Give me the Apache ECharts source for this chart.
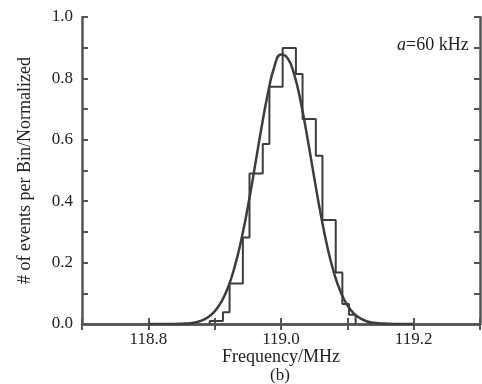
<!DOCTYPE html>
<html>
<head>
<meta charset="utf-8">
<script src="https://cdn.jsdelivr.net/npm/echarts@6/dist/echarts.min.js"></script>
<style>
html,body{margin:0;padding:0;background:#fff;}
#c{width:482px;height:384px;}
</style>
</head>
<body>
<div id="c"></div>
<script>
// Histogram bin edges (MHz) and normalized counts per bin
var histEdges = [118.8925, 118.9125, 118.9225, 118.9425, 118.9525, 118.9725, 118.9825, 119.0025, 119.0225, 119.0325, 119.0525, 119.0625, 119.0825, 119.0925, 119.1025, 119.1125];
var histValues = [0.01, 0.038, 0.132, 0.282, 0.49, 0.586, 0.773, 0.899, 0.814, 0.668, 0.548, 0.339, 0.168, 0.065, 0.03];

// Fitted curve
var curveX = [118.80, 118.84, 118.85, 118.86, 118.87, 118.88, 118.89, 118.90, 118.91, 118.92, 118.93, 118.94, 118.95, 118.96, 118.97, 118.98, 118.99, 119.00, 119.01, 119.02, 119.03, 119.04, 119.05, 119.06, 119.07, 119.08, 119.09, 119.10, 119.11, 119.12, 119.13, 119.14, 119.15, 119.16, 119.17, 119.20];
var curveY = [0.000, 0.000, 0.001, 0.002, 0.005, 0.011, 0.022, 0.041, 0.072, 0.118, 0.185, 0.273, 0.381, 0.505, 0.632, 0.748, 0.838, 0.878, 0.866, 0.812, 0.721, 0.604, 0.478, 0.356, 0.250, 0.166, 0.104, 0.061, 0.034, 0.018, 0.008, 0.004, 0.002, 0.001, 0.000, 0.000];

// Axis ticks and labels
var xTickValues = [118.7, 118.8, 118.9, 119.0, 119.1, 119.2, 119.3];
var xTickLabels = ['118.8', '119.0', '119.2'];
var yTickLabels = ['0.0', '0.2', '0.4', '0.6', '0.8', '1.0'];
var xTitle = 'Frequency/MHz';
var yTitle = '# of events per Bin/Normalized';
var panelLabel = '(b)';
var annotation = '=60 kHz';

var histData = [[histEdges[0], 0]];
for (var i = 0; i < histValues.length; i++) histData.push([histEdges[i], histValues[i]]);
histData.push([histEdges[histEdges.length - 1], 0]);

var curveData = curveX.map(function (x, i) { return [x, curveY[i]]; });
var xLabelValues = xTickLabels.map(Number);

var font = 'Liberation Serif, Times New Roman, serif';
var axisCol = '#555555';
var lineCol = '#3d3d3d';
function tick() { return {show: true, inside: true, length: 6, lineStyle: {color: axisCol, width: 2}}; }
function minor() { return {show: true, splitNumber: 2, length: 6, lineStyle: {color: axisCol, width: 2}}; }
function xTick() { var t = tick(); t.customValues = xTickValues.slice(); return t; }

var chart = echarts.init(document.getElementById('c'), null, {renderer: 'canvas'});
chart.setOption({
  backgroundColor: '#ffffff',
  animation: false,
  grid: {left: 82, right: 2, top: 17, bottom: 60},
  xAxis: [{
    type: 'value', min: 118.7, max: 119.3, position: 'bottom',
    name: xTitle, nameLocation: 'middle', nameGap: 24, nameMoveOverlap: false,
    nameTextStyle: {fontFamily: font, fontSize: 18, color: '#222'},
    axisLine: {lineStyle: {color: axisCol, width: 2.5}},
    axisTick: xTick(),
    axisLabel: {customValues: xLabelValues, fontFamily: font, fontSize: 17, color: '#222', margin: 7,
      formatter: function (v) { return v.toFixed(1); }},
    splitLine: {show: false}
  }, {
    type: 'value', min: 118.7, max: 119.3, position: 'top',
    axisLine: {lineStyle: {color: axisCol, width: 2.5}},
    axisTick: xTick(),
    axisLabel: {show: false}, splitLine: {show: false}
  }],
  yAxis: [{
    type: 'value', min: 0, max: 1, interval: 0.2, position: 'left',
    name: yTitle, nameLocation: 'middle', nameGap: 48, nameMoveOverlap: false,
    nameTextStyle: {fontFamily: font, fontSize: 18, color: '#222'},
    axisLine: {show: true, lineStyle: {color: axisCol, width: 2.5}},
    axisTick: tick(), minorTick: minor(),
    axisLabel: {fontFamily: font, fontSize: 17, color: '#222', margin: 9,
      formatter: function (v) { var s = v.toFixed(1); return yTickLabels.indexOf(s) >= 0 ? s : ''; }},
    splitLine: {show: false}
  }, {
    type: 'value', min: 0, max: 1, interval: 0.2, position: 'right',
    axisLine: {show: true, lineStyle: {color: axisCol, width: 2.5}},
    axisTick: tick(), minorTick: minor(),
    axisLabel: {show: false}, splitLine: {show: false}
  }],
  series: [{
    type: 'line', step: 'end', data: histData, symbol: 'none',
    lineStyle: {color: lineCol, width: 2}, z: 3
  }, {
    type: 'line', smooth: true, data: curveData, symbol: 'none',
    lineStyle: {color: lineCol, width: 2.5}, z: 4
  }],
  graphic: [{
    type: 'text', left: 270, top: 367,
    style: {text: panelLabel, font: '17px ' + font, fill: '#222'}
  }, {
    type: 'text', left: 397, top: 36,
    style: {text: '{i|a}{n|' + annotation + '}', rich: {
      i: {fontFamily: font, fontStyle: 'italic', fontSize: 18, fill: '#222'},
      n: {fontFamily: font, fontSize: 18, fill: '#222'}
    }}
  }]
});
</script>
</body>
</html>
